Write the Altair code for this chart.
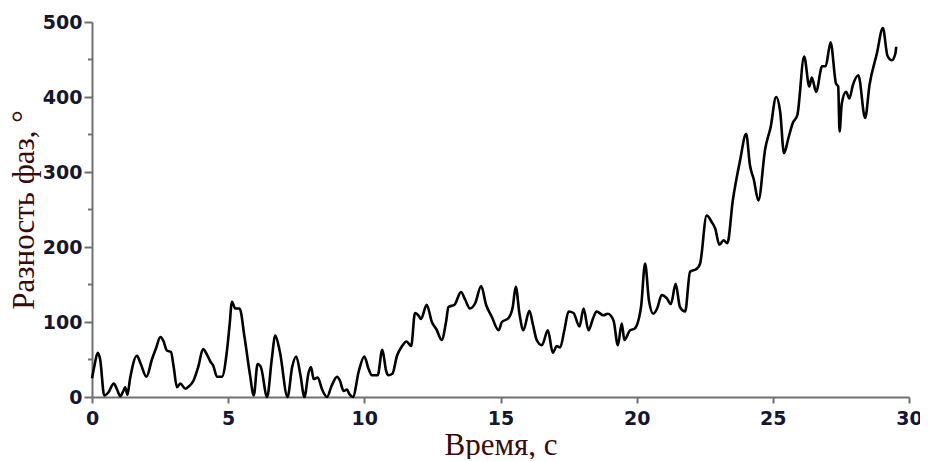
import altair as alt
import pandas as pd

time_s = [0.0, 0.08, 0.21, 0.3, 0.45, 0.6, 0.8, 0.92, 1.04, 1.15, 1.22, 1.3, 1.4, 1.65, 1.78,
          2.0, 2.2, 2.35, 2.51, 2.62, 2.75, 2.9, 3.0, 3.12, 3.24, 3.43, 3.55, 3.73, 3.9, 4.08,
          4.2, 4.35, 4.45, 4.59, 4.77, 4.95, 5.05, 5.14, 5.26, 5.42, 5.6, 5.8, 5.94, 6.08, 6.2,
          6.43, 6.6, 6.73, 6.9, 7.18, 7.35, 7.5, 7.65, 7.8, 7.95, 8.04, 8.14, 8.29, 8.45, 8.63,
          8.8, 9.0, 9.1, 9.24, 9.36, 9.45, 9.58, 9.8, 10.0, 10.15, 10.28, 10.49, 10.66, 10.8,
          10.88, 11.03, 11.2, 11.37, 11.55, 11.72, 11.86, 12.0, 12.08, 12.29, 12.48, 12.65,
          12.84, 13.0, 13.09, 13.31, 13.55, 13.7, 13.88, 14.07, 14.29, 14.47, 14.68, 14.93,
          15.05, 15.29, 15.45, 15.56, 15.7, 15.84, 16.06, 16.2, 16.33, 16.52, 16.74, 16.92,
          17.07, 17.19, 17.35, 17.5, 17.68, 17.9, 18.05, 18.23, 18.4, 18.53, 18.78, 18.94,
          19.15, 19.31, 19.45, 19.55, 19.76, 19.92, 20.16, 20.31, 20.45, 20.61, 20.75, 20.92,
          21.1, 21.26, 21.43, 21.59, 21.78, 21.96, 22.21, 22.33, 22.57, 22.76, 22.88, 23.04,
          23.19, 23.33, 23.53, 23.8, 24.02, 24.16, 24.3, 24.47, 24.72, 24.92, 25.12, 25.27,
          25.41, 25.57, 25.73, 25.9, 26.15, 26.34, 26.43, 26.59, 26.81, 26.94, 27.12, 27.32,
          27.4, 27.45, 27.53, 27.69, 27.81, 27.94, 28.14, 28.39, 28.55, 28.82, 29.04, 29.21,
          29.37, 29.5, 29.53]

phase_deg = [25, 40, 59, 50, 2, 6, 18, 10, 1, 8, 13, 3, 25, 55, 45,
             27, 50, 65, 80, 75, 62, 60, 40, 13, 18, 11, 14, 22, 40, 64,
             58, 47, 42, 27, 27, 60, 95, 127, 118, 118, 80, 30, 2, 44, 40,
             0, 50, 82, 60, 0, 40, 54, 30, 0, 32, 40, 24, 26, 10, 0,
             15, 27, 22, 8, 10, 4, 0, 35, 54, 38, 29, 29, 63, 35,
             29, 31, 55, 67, 74, 68, 112, 108, 104, 123, 100, 90,
             76, 100, 120, 123, 140, 130, 118, 125, 148, 123, 107, 89,
             100, 105, 120, 147, 110, 89, 115, 95, 76, 69, 89, 59,
             68, 66, 90, 114, 112, 94, 118, 89, 105, 114, 109, 111,
             102, 69, 98, 76, 89, 91, 120, 178, 129, 111, 118, 136,
             132, 124, 151, 120, 114, 167, 171, 178, 242, 233, 225, 203,
             209, 205, 262, 316, 351, 309, 290, 262, 331, 360, 400, 380,
             325, 345, 365, 376, 454, 414, 426, 407, 441, 441, 473, 418,
             414, 354, 391, 407, 398, 416, 429, 372, 416, 458, 492, 455,
             449, 458, 467]

x_ticks = [0, 5, 10, 15, 20, 25, 30]
y_ticks = [0, 100, 200, 300, 400, 500]
y_minor = [50, 150, 250, 350, 450]

df = pd.DataFrame({"t": time_s, "v": phase_deg})

label_font = "DejaVu Sans"
title_font = "Liberation Serif"
axis_grey = "#707070"
label_color = "#161630"
title_color = "#3a0a0a"

x_scale = alt.Scale(domain=[0, 30], nice=False, zero=False)
y_scale = alt.Scale(domain=[0, 500], nice=False)

line = alt.Chart(df).mark_line(color="black", strokeWidth=2.6, interpolate="monotone").encode(
    x=alt.X("t:Q", scale=x_scale,
            axis=alt.Axis(values=x_ticks, title="Время, с", grid=False,
                          domainColor=axis_grey, domainWidth=2, tickColor=axis_grey,
                          tickWidth=2, tickSize=6, labelFont=label_font, labelFontSize=19,
                          labelFontWeight="bold",
                          labelColor=label_color, labelPadding=6, labelFlush=False,
                          titleFont=title_font, titleFontSize=31, titleFontWeight="normal",
                          titleColor=title_color, titlePadding=2)),
    y=alt.Y("v:Q", scale=y_scale,
            axis=alt.Axis(values=y_ticks, title="Разность фаз, °", grid=False,
                          domainColor=axis_grey, domainWidth=2, tickColor=axis_grey,
                          tickWidth=2, tickSize=8, labelFont=label_font, labelFontSize=19,
                          labelFontWeight="bold",
                          labelColor=label_color, labelPadding=2, labelFlush=False,
                          titleFont=title_font, titleFontSize=31, titleFontWeight="normal",
                          titleColor=title_color, titlePadding=2)),
)

minor_df = pd.DataFrame({"v": y_minor})
minor = alt.Chart(minor_df).mark_rule(color=axis_grey, strokeWidth=2).encode(
    x=alt.value(-4),
    x2=alt.value(0),
    y=alt.Y("v:Q", scale=y_scale),
)

chart = alt.layer(line, minor).properties(
    width=817, height=375,
    background="white",
    autosize=alt.AutoSizeParams(type="none"),
    padding={"left": 84, "top": 14, "right": 11, "bottom": 62},
).configure_view(stroke=None)

chart.save("out.html", embed_options={"renderer": "svg", "actions": False})
